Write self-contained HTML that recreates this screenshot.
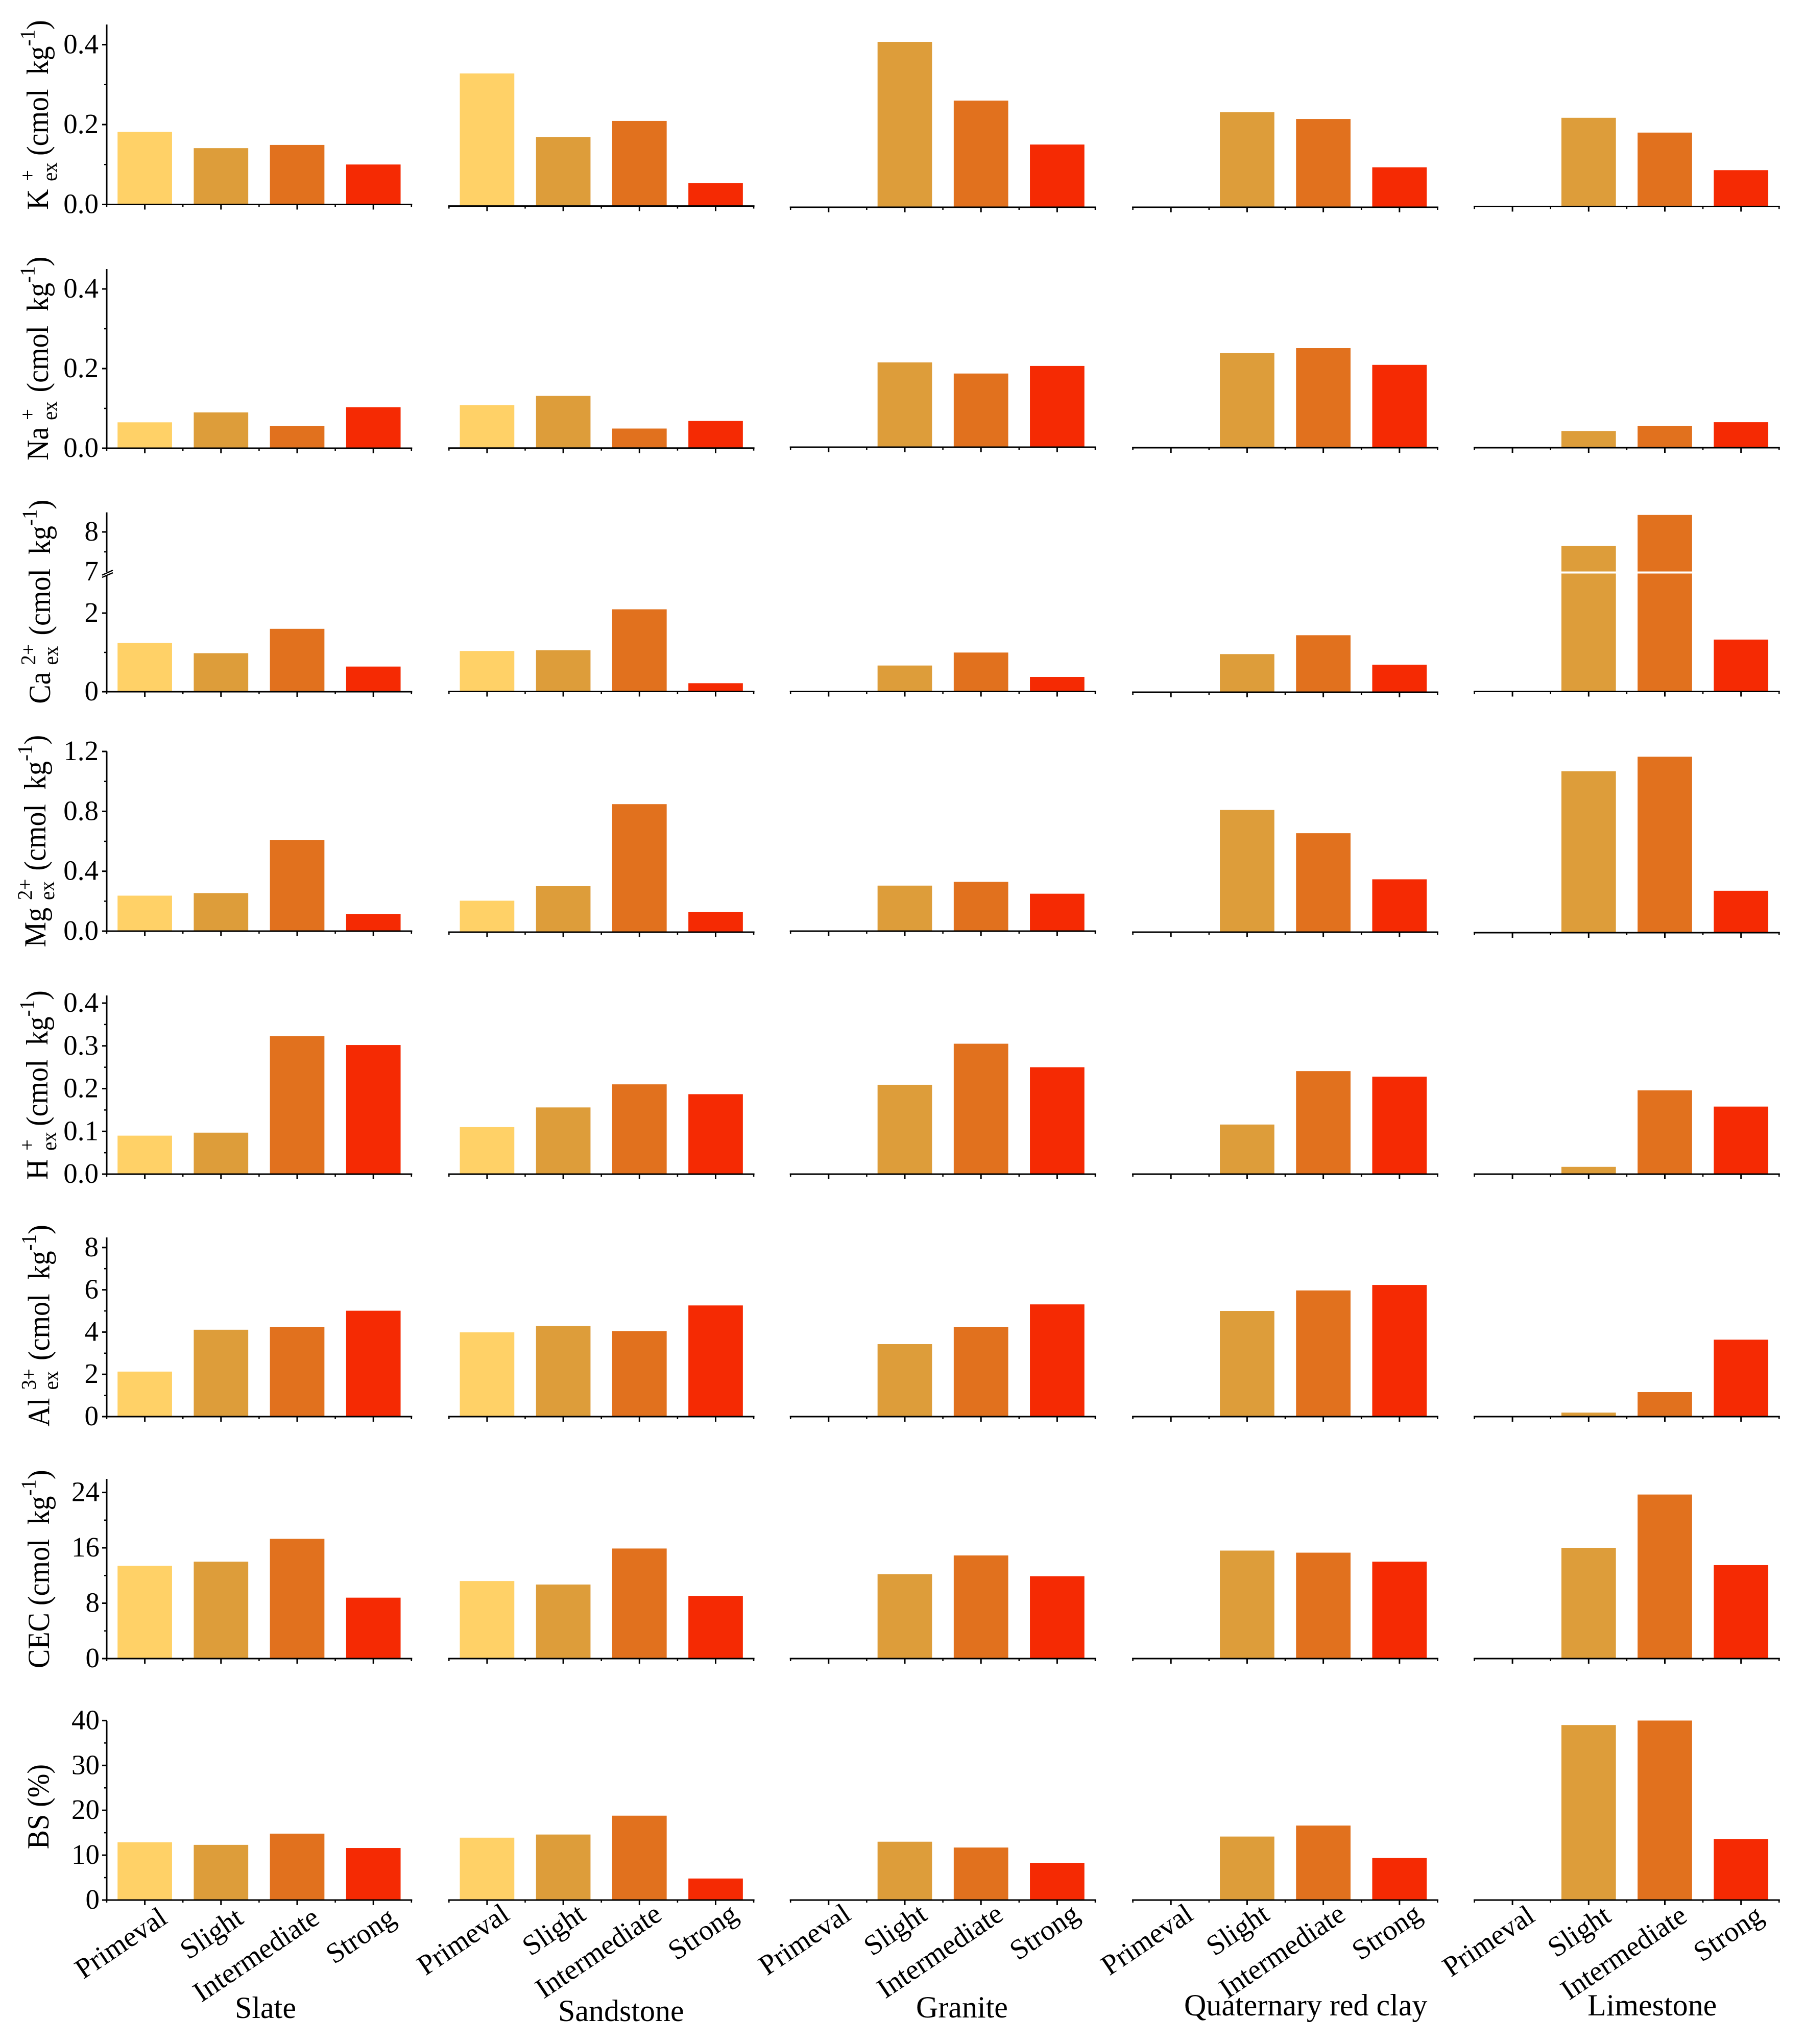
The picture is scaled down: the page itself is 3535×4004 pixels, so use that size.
<!DOCTYPE html>
<html lang="en">
<head>
<meta charset="utf-8">
<title>Exchangeable cations by parent rock and erosion degree</title>
<style>
html,body{margin:0;padding:0;background:#fff;}
svg{display:block;}
text{font-family:"Liberation Serif",serif;fill:#000;white-space:pre;}
</style>
</head>
<body>
<svg id="chart" xmlns="http://www.w3.org/2000/svg" width="3535" height="4004" viewBox="0 0 3535 4004">
<rect x="0" y="0" width="3535" height="4004" fill="#fff"/>
<g id="marks"></g>

<g transform="translate(94,411) rotate(-90) scale(1,1.07)">
<text font-size="56">K</text>
<text x="56" y="-25" font-size="39">+</text>
<text x="56" y="16" font-size="39">ex</text>
<text x="106" font-size="56" xml:space="preserve">(cmol  kg<tspan dy="-25" font-size="39">-1</tspan><tspan dy="25">)</tspan></text>
</g>
<g transform="translate(94,902) rotate(-90) scale(1,1.07)">
<text font-size="56">Na</text>
<text x="79" y="-25" font-size="39">+</text>
<text x="79" y="16" font-size="39">ex</text>
<text x="133.5" font-size="56" xml:space="preserve">(cmol  kg<tspan dy="-25" font-size="39">-1</tspan><tspan dy="25">)</tspan></text>
</g>
<g transform="translate(98,1378.6) rotate(-90) scale(1,1.07)">
<text font-size="56">Ca</text>
<text x="76" y="-27" font-size="39">2+</text>
<text x="76" y="14" font-size="39">ex</text>
<text x="134" font-size="56" xml:space="preserve">(cmol  kg<tspan dy="-25" font-size="39">-1</tspan><tspan dy="25">)</tspan></text>
</g>
<g transform="translate(89,1855.6) rotate(-90) scale(1,1.07)">
<text font-size="56">Mg</text>
<text x="92.5" y="-25" font-size="39">2+</text>
<text x="92.5" y="16" font-size="39">ex</text>
<text x="150" font-size="56" xml:space="preserve">(cmol  kg<tspan dy="-25" font-size="39">-1</tspan><tspan dy="25">)</tspan></text>
</g>
<g transform="translate(93,2311) rotate(-90) scale(1,1.07)">
<text font-size="56">H</text>
<text x="57" y="-25" font-size="39">+</text>
<text x="57" y="16" font-size="39">ex</text>
<text x="105" font-size="56" xml:space="preserve">(cmol  kg<tspan dy="-25" font-size="39">-1</tspan><tspan dy="25">)</tspan></text>
</g>
<g transform="translate(96.5,2794.5) rotate(-90) scale(1,1.07)">
<text font-size="56">Al</text>
<text x="72" y="-25" font-size="39">3+</text>
<text x="72" y="16" font-size="39">ex</text>
<text x="129.5" font-size="56" xml:space="preserve">(cmol  kg<tspan dy="-25" font-size="39">-1</tspan><tspan dy="25">)</tspan></text>
</g>
<g transform="translate(96,3268) rotate(-90) scale(1,1.07)">
<text font-size="56" xml:space="preserve">CEC (cmol  kg<tspan dy="-25" font-size="39">-1</tspan><tspan dy="25">)</tspan></text>
</g>
<g transform="translate(95,3622.4) rotate(-90) scale(1,1.07)">
<text font-size="56">BS (%)</text>
</g>

<text x="460" y="3953" font-size="60">Slate</text>
<text x="1093" y="3959" font-size="60">Sandstone</text>
<text x="1794" y="3952" font-size="60">Granite</text>
<text x="2319" y="3948" font-size="60">Quaternary red clay</text>
<text x="3109" y="3948" font-size="60">Limestone</text>
</svg>

<script>
// ---------- chart data ----------
const categories = ['Primeval', 'Slight', 'Intermediate', 'Strong'];
const rocks = ['slate', 'sandstone', 'granite', 'quaternary-red-clay', 'limestone'];
const measures = ['k', 'na', 'ca', 'mg', 'h', 'al', 'cec', 'bs'];

// each series: one row of four values per rock, in the order of `rocks`
const kValues = [
  [0.182, 0.141, 0.149, 0.100],
  [0.332, 0.173, 0.213, 0.057],
  [0, 0.414, 0.267, 0.157],
  [0, 0.238, 0.221, 0.100],
  [0, 0.222, 0.185, 0.091]
];
const naValues = [
  [0.065, 0.090, 0.056, 0.103],
  [0.108, 0.131, 0.049, 0.068],
  [0, 0.213, 0.185, 0.204],
  [0, 0.238, 0.250, 0.208],
  [0, 0.042, 0.055, 0.064]
];
const caValues = [
  [1.24, 0.98, 1.60, 0.64],
  [1.03, 1.05, 2.09, 0.21],
  [0, 0.66, 0.99, 0.37],
  [0, 0.97, 1.45, 0.70],
  [0, 7.64, 8.42, 1.32]
];
const mgValues = [
  [0.237, 0.254, 0.609, 0.115],
  [0.210, 0.307, 0.855, 0.134],
  [0, 0.304, 0.329, 0.250],
  [0, 0.816, 0.661, 0.353],
  [0, 1.078, 1.175, 0.280]
];
const hValues = [
  [0.090, 0.097, 0.323, 0.302],
  [0.110, 0.156, 0.210, 0.187],
  [0, 0.209, 0.305, 0.250],
  [0, 0.116, 0.241, 0.228],
  [0, 0.017, 0.196, 0.158]
];
const alValues = [
  [2.13, 4.11, 4.25, 5.01],
  [3.99, 4.29, 4.05, 5.26],
  [0, 3.43, 4.25, 5.31],
  [0, 5.00, 5.97, 6.23],
  [0, 0.19, 1.16, 3.64]
];
const cecValues = [
  [13.4, 14.0, 17.3, 8.8],
  [11.2, 10.7, 15.9, 9.06],
  [0, 12.2, 14.9, 11.9],
  [0, 15.6, 15.3, 14.0],
  [0, 16.0, 23.7, 13.5]
];
const bsValues = [
  [12.87, 12.3, 14.8, 11.6],
  [13.9, 14.6, 18.8, 4.8],
  [0, 13.0, 11.7, 8.3],
  [0, 14.15, 16.6, 9.36],
  [0, 39.0, 40.0, 13.6]
];

const kTicks = ['0.0', '0.2', '0.4'];
const naTicks = ['0.0', '0.2', '0.4'];
const caTicks = ['0', '2', '7', '8'];
const mgTicks = ['0.0', '0.4', '0.8', '1.2'];
const hTicks = ['0.0', '0.1', '0.2', '0.3', '0.4'];
const alTicks = ['0', '2', '4', '6', '8'];
const cecTicks = ['0', '8', '16', '24'];
const bsTicks = ['0', '10', '20', '30', '40'];

const seriesByRow = [kValues, naValues, caValues, mgValues, hValues, alValues, cecValues, bsValues];
const ticksByRow = [kTicks, naTicks, caTicks, mgTicks, hTicks, alTicks, cecTicks, bsTicks];

// ---------- layout and axis functions ----------
function panelBaseline(row, col) {
  const baselines = [
    [400.5, 403.6, 406, 406, 404.5],
    [878, 877.7, 876, 877, 877],
    [1355, 1354.5, 1354.5, 1356, 1354.5],
    [1824, 1826, 1824, 1826, 1827],
    [2300, 2300, 2300, 2300, 2300],
    [2775, 2775, 2775, 2775, 2775],
    [3249, 3249, 3249, 3249, 3249],
    [3722, 3722, 3722, 3722, 3722]
  ];
  return baselines[row][col];
}
function pixelsPerUnit(row) {
  return [782.5, 780, 77, 293.3, 837.5, 41.4, 13.56, 8.79][row];
}
function axisTop(row) {
  return [48, 527, 1003.6, 1472, 1950, 2424, 2897, 3371][row];
}
function colStart(col) {
  return [209, 879.3, 1548.2, 2218.6, 2887.5][col];
}
const CAT_STEP = 149.2;
const BAR_WIDTH = 106.7;
const BROKEN_ROW = 2;
const BREAK_LOW = 3;
const BREAK_HIGH = 7;

function xCenter(col, i) {
  return colStart(col) + (i + 0.5) * CAT_STEP;
}
function yPos(row, col, v) {
  const base = panelBaseline(row, col);
  if (row === BROKEN_ROW && v >= BREAK_HIGH) {
    return base - 235 - (v - BREAK_HIGH) * 78;
  }
  return base - v * pixelsPerUnit(row);
}

const svgNS = 'http://www.w3.org/2000/svg';
const marks = document.getElementById('marks');
function mk(tag, attrs) {
  const el = document.createElementNS(svgNS, tag);
  for (const k in attrs) el.setAttribute(k, attrs[k]);
  marks.appendChild(el);
  return el;
}
const colors = ['#FFD167', '#DD9D3A', '#E1711E', '#F52A03'];
const STROKE = 3;

rocks.forEach(function (rock, col) {
  measures.forEach(function (measure, row) {
    const base = panelBaseline(row, col);
    const values = seriesByRow[row][col];

    // bars
    values.forEach(function (v, i) {
      if (v <= 0) return;
      const left = xCenter(col, i) - BAR_WIDTH / 2;
      if (row === BROKEN_ROW && v > BREAK_HIGH) {
        const top = yPos(row, col, v);
        const upper = mk('rect', { x: left, y: top, width: BAR_WIDTH, height: yPos(row, col, BREAK_HIGH) - top, fill: colors[i] });
        
        
        const lowTop = yPos(row, col, BREAK_LOW);
        const lower = mk('rect', { x: left, y: lowTop, width: BAR_WIDTH, height: base - lowTop, fill: colors[i] });
        
        
      } else {
        const top = yPos(row, col, v);
        const bar = mk('rect', { x: left, y: top, width: BAR_WIDTH, height: base - top, fill: colors[i] });
        
        
      }
    });

    // x axis line
    const xAxis = mk('line', { x1: colStart(col) - 1.5, x2: colStart(col) + 4 * CAT_STEP + 1.5, y1: base, y2: base, stroke: '#000', 'stroke-width': STROKE });
    
    

    // x ticks
    for (let i = 0; i <= 4; i++) {
      const minorX = colStart(col) + i * CAT_STEP;
      const minor = mk('line', { x1: minorX, x2: minorX, y1: base, y2: base + 5, stroke: '#000', 'stroke-width': 2.5 });
      
      
    }
    categories.forEach(function (c, i) {
      const major = mk('line', { x1: xCenter(col, i), x2: xCenter(col, i), y1: base, y2: base + 10, stroke: '#000', 'stroke-width': 3 });
      
      
    });

    // y axis in first column only
    if (col === 0) {
      const ticks = ticksByRow[row];
      const axisX = colStart(0);
      if (row === BROKEN_ROW) {
        const upperAxis = mk('line', { x1: axisX, x2: axisX, y1: axisTop(row), y2: yPos(row, col, BREAK_HIGH) + 1, stroke: '#000', 'stroke-width': STROKE });
        
        
        const lowerAxis = mk('line', { x1: axisX, x2: axisX, y1: yPos(row, col, BREAK_LOW) + 4, y2: base + 1.5, stroke: '#000', 'stroke-width': STROKE });
        
        
        const slashA = mk('line', { x1: axisX - 9, x2: axisX + 12, y1: 1126.6, y2: 1117, stroke: '#000', 'stroke-width': 2.5 });
        
        
        const slashB = mk('line', { x1: axisX - 9, x2: axisX + 12, y1: 1131, y2: 1122, stroke: '#000', 'stroke-width': 2.5 });
        
        
      } else {
        const yAxis = mk('line', { x1: axisX, x2: axisX, y1: axisTop(row), y2: base + 1.5, stroke: '#000', 'stroke-width': STROKE });
        
        
      }
      ticks.forEach(function (label, t) {
        const v = parseFloat(label);
        const y = yPos(row, col, v);
        if (!(row === BROKEN_ROW && v === BREAK_HIGH)) {
          const tick = mk('line', { x1: axisX - 9, x2: axisX, y1: y, y2: y, stroke: '#000', 'stroke-width': 3 });
          
          
        }
        const txt = mk('text', { x: row === 7 || row === 6 ? 195 : 193, y: y + 17, 'font-size': 55, 'text-anchor': 'end' });
        
        
        txt.textContent = label;
        if (t < ticks.length - 1) {
          const next = parseFloat(ticks[t + 1]);
          if (!(row === BROKEN_ROW && v === 2)) {
            const my = yPos(row, col, (v + next) / 2);
            const minorTick = mk('line', { x1: axisX - 5, x2: axisX, y1: my, y2: my, stroke: '#000', 'stroke-width': 2.5 });
            
            
          }
        }
      });
    }

    // category labels on the bottom row
    if (row === measures.length - 1) {
      categories.forEach(function (c, i) {
        const lift = [0, -7, -7, -7, -4][col];
        const lx = xCenter(col, i) + 47;
        const ly = 3765 + lift;
        const lab = mk('text', { 'font-size': 56, 'text-anchor': 'end', transform: 'translate(' + lx + ',' + ly + ') rotate(-34)' });
        
        
        lab.textContent = c;
      });
    }
  });
});
</script>
</body>
</html>
